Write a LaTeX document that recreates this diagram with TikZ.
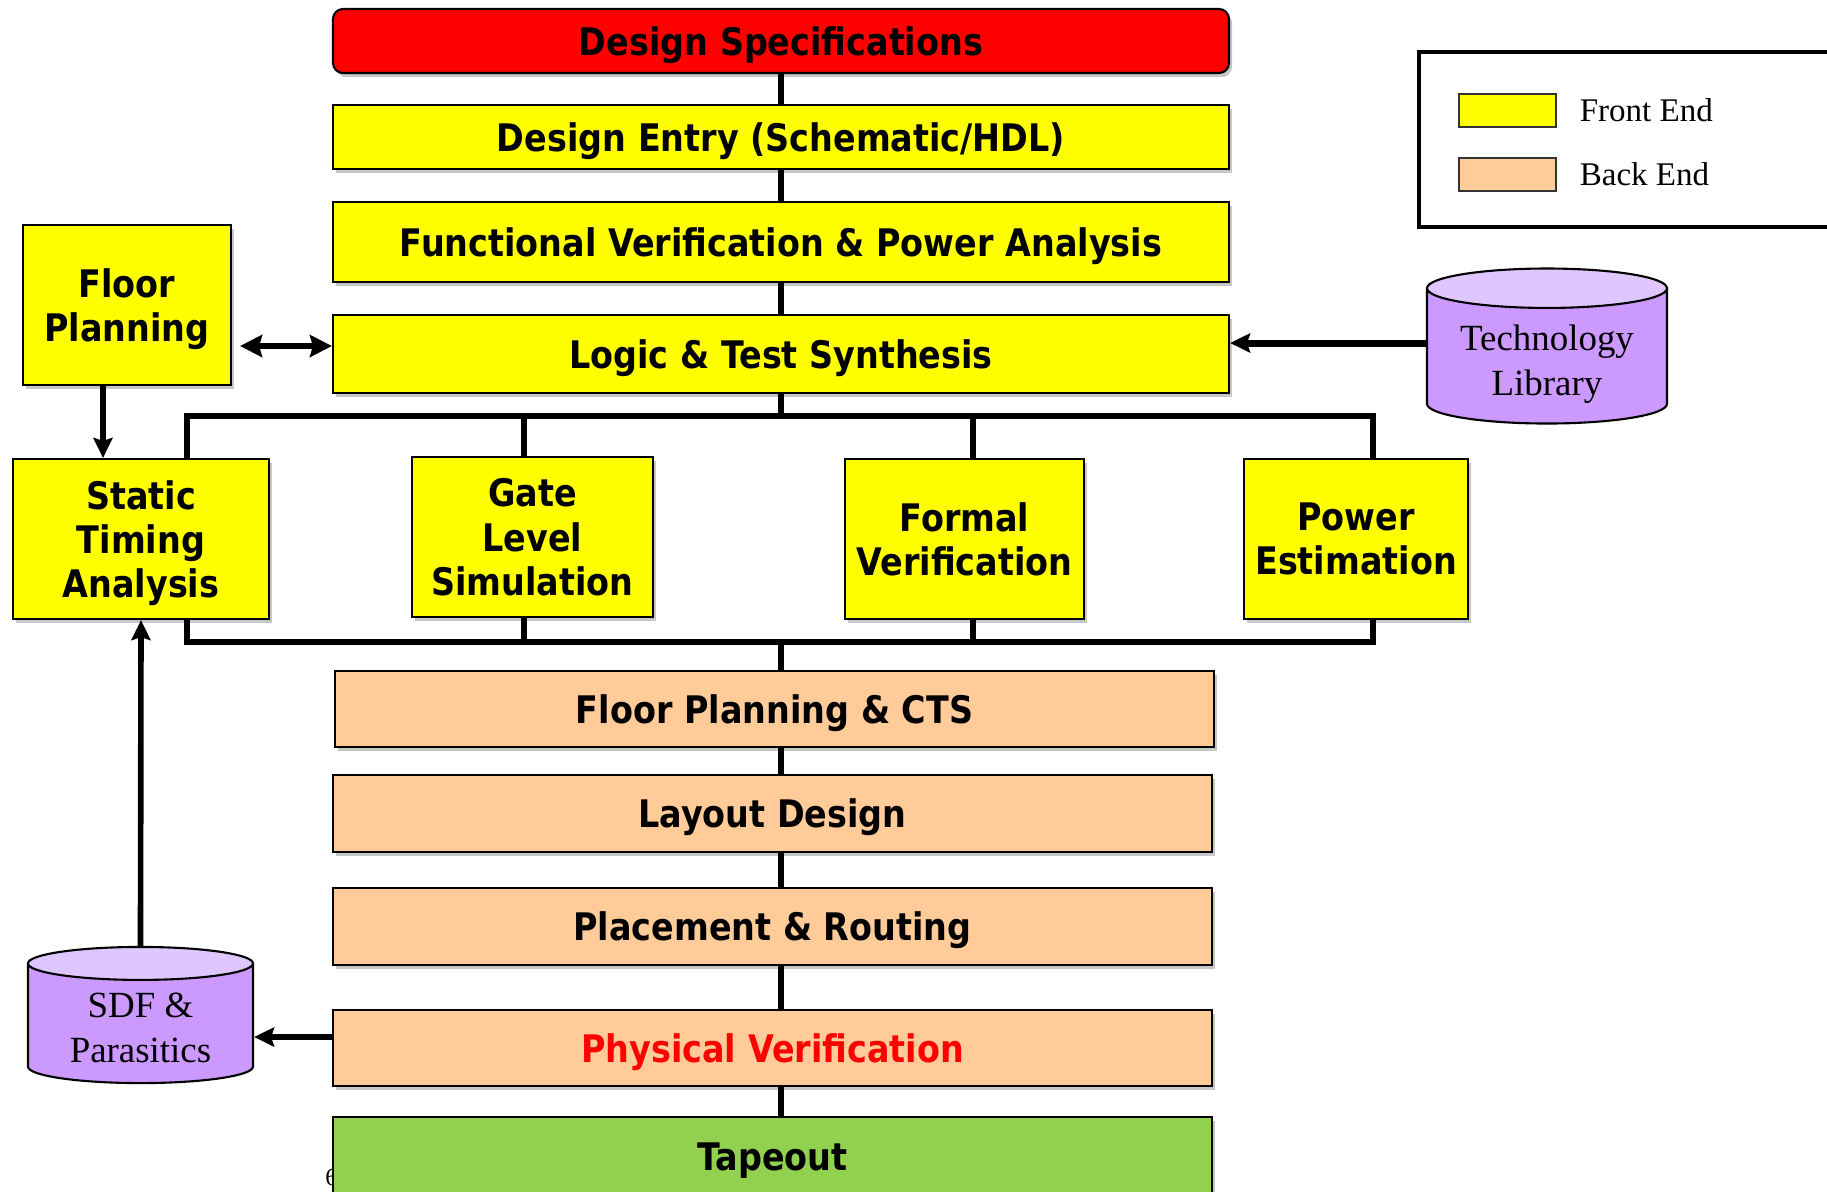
\documentclass[tikz,border=0pt]{standalone}
\usepackage{fontspec}
\setmainfont{Liberation Serif}
\newfontfamily\boxfont{DejaVu Sans}[FakeStretch=0.88]
\usetikzlibrary{shapes.geometric,arrows.meta,shadows,calc}
\definecolor{specred}{HTML}{FF0000}
\definecolor{frontyellow}{HTML}{FFFF00}
\definecolor{backpeach}{HTML}{FFCC99}
\definecolor{tapegreen}{HTML}{92D050}
\definecolor{dbbody}{HTML}{CC99FF}
\definecolor{dbtop}{HTML}{E0C6FF}

\begin{document}
\begin{tikzpicture}[every node/.style={align=center},
  box/.style={draw=black,line width=0.6pt,inner sep=0pt,text depth=0pt,font=\boxfont\bfseries\fontsize{10.8pt}{12.6pt}\selectfont,drop shadow={shadow xshift=0.03cm,shadow yshift=-0.04cm,fill=black!22,opacity=1}},
  front/.style={box,fill=frontyellow},
  back/.style={box,fill=backpeach},
  db/.style={cylinder,shape border rotate=90,aspect=0.2,anchor=shape center,text depth=0pt,draw=black,line width=0.6pt,cylinder uses custom fill,cylinder body fill=dbbody,cylinder end fill=dbtop,font=\fontsize{10.5pt}{12.8pt}\selectfont},
  swatch/.style={draw=black!80,line width=0.8pt,minimum width=0.97cm,minimum height=0.33cm,inner sep=0pt},
  wire/.style={line width=1.6pt},
  arr/.style={line width=1.6pt,-{Stealth[length=0.2cm,width=0.19cm,inset=0.03cm]}},
  arrboth/.style={line width=1.5pt,{Stealth[length=0.22cm,width=0.22cm,inset=0.03cm]}-{Stealth[length=0.22cm,width=0.22cm,inset=0.03cm]}}]
\clip (0,0) rectangle (18.27,-11.91);

% main flow
\node[box,fill=specred,rounded corners=0.1cm,minimum width=8.96cm,minimum height=0.64cm] (spec) at (7.81,-0.41) {Design Specifications};
\node[front,minimum width=8.96cm,minimum height=0.64cm] (entry) at (7.81,-1.37) {Design Entry (Schematic/HDL)};
\node[front,minimum width=8.96cm,minimum height=0.80cm] (func) at (7.81,-2.42) {Functional Verification \& Power Analysis};
\node[front,minimum width=8.96cm,minimum height=0.78cm] (synth) at (7.81,-3.54) {Logic \& Test Synthesis};
\node[front,minimum width=2.08cm,minimum height=1.60cm] (floorplan) at (1.27,-3.05) {Floor\\Planning};

% checks after synthesis
\node[front,minimum width=2.56cm,minimum height=1.60cm] (sta) at (1.41,-5.39) {Static\\Timing\\Analysis};
\node[front,minimum width=2.41cm,minimum height=1.60cm] (gls) at (5.325,-5.37) {Gate\\Level\\Simulation};
\node[front,minimum width=2.39cm,minimum height=1.60cm] (formal) at (9.645,-5.39) {Formal\\Verification};
\node[front,minimum width=2.24cm,minimum height=1.60cm] (power) at (13.56,-5.39) {Power\\Estimation};

% back end
\node[back,minimum width=8.79cm,minimum height=0.76cm] (fpcts) at (7.745,-7.09) {Floor Planning \& CTS};
\node[back,minimum width=8.79cm,minimum height=0.77cm] (layout) at (7.725,-8.135) {Layout Design};
\node[back,minimum width=8.79cm,minimum height=0.77cm] (pnr) at (7.725,-9.265) {Placement \& Routing};
\node[back,minimum width=8.79cm,minimum height=0.76cm,text=specred] (physv) at (7.725,-10.48) {Physical Verification};
\node[anchor=west,font=\fontsize{7pt}{8pt}\selectfont] (pagenum) at (3.13,-11.77) {6};
\node[box,fill=tapegreen,minimum width=8.79cm,minimum height=0.80cm] (tapeout) at (7.725,-11.57) {Tapeout};

% libraries
\node[db,minimum width=2.40cm,minimum height=1.55cm] (tech) at (15.47,-3.46) {Technology\\Library};
\node[db,minimum width=2.25cm,minimum height=1.26cm] (sdf) at (1.405,-10.15) {SDF \&\\Parasitics};

% legend
\node[draw=black,line width=0.9pt,minimum width=4.31cm,minimum height=1.75cm] (legend) at (16.345,-1.395) {};
\node[swatch,fill=frontyellow] (fe) at (15.075,-1.105) {};
\node[swatch,fill=backpeach] (be) at (15.075,-1.745) {};
\node[anchor=west,font=\fontsize{9.4pt}{11pt}\selectfont] (fetext) at ([xshift=0.1cm]fe.east) {Front End};
\node[anchor=west,font=\fontsize{9.4pt}{11pt}\selectfont] (betext) at ([xshift=0.1cm]be.east) {Back End};

% connections
\coordinate (spine) at (7.81,0);
\coordinate (bustop) at (7.81,-4.16);
\coordinate (busbot) at (7.81,-6.42);
\draw[wire] (spec) -- (entry);
\draw[wire] (entry) -- (func);
\draw[wire] (func) -- (synth);
\draw[wire] (synth) -- (bustop);
\draw[wire] ([xshift=0.46cm]sta.north) |- (bustop) -| ([xshift=0.17cm]power.north);
\draw[wire] ([xshift=-0.085cm]gls.north) -- ([xshift=-0.085cm]gls.north |- bustop);
\draw[wire] ([xshift=0.085cm]formal.north) -- ([xshift=0.085cm]formal.north |- bustop);
\draw[wire] ([xshift=0.46cm]sta.south) |- (busbot) -| ([xshift=0.17cm]power.south);
\draw[wire] ([xshift=-0.085cm]gls.south) -- ([xshift=-0.085cm]gls.south |- busbot);
\draw[wire] ([xshift=0.085cm]formal.south) -- ([xshift=0.085cm]formal.south |- busbot);
\draw[wire] (busbot) -- (busbot |- fpcts.north);
\draw[wire] (fpcts.south -| spine) -- (layout.north -| spine);
\draw[wire] (layout.south -| spine) -- (pnr.north -| spine);
\draw[wire] (pnr.south -| spine) -- (physv.north -| spine);
\draw[wire] (physv.south -| spine) -- (tapeout.north -| spine);

\draw[arrboth] ($(floorplan.east |- synth.west)+(0.08,0.08)$) -- ($(synth.west)+(0,0.08)$);
\draw[arr] ([xshift=-0.24cm]floorplan.south) -- ([xshift=-0.24cm]floorplan.south |- sta.north);
\draw[arr,line width=2pt] ([yshift=0.03cm]tech.shape center -| tech.west) -- ([yshift=0.03cm]tech.shape center -| synth.east);
\draw[arr] (sdf.north) -- (sta.south);
\draw[arr] ([yshift=0.11cm]physv.west) -- ([yshift=0.11cm]physv.west -| sdf.east);
\end{tikzpicture}
\end{document}
